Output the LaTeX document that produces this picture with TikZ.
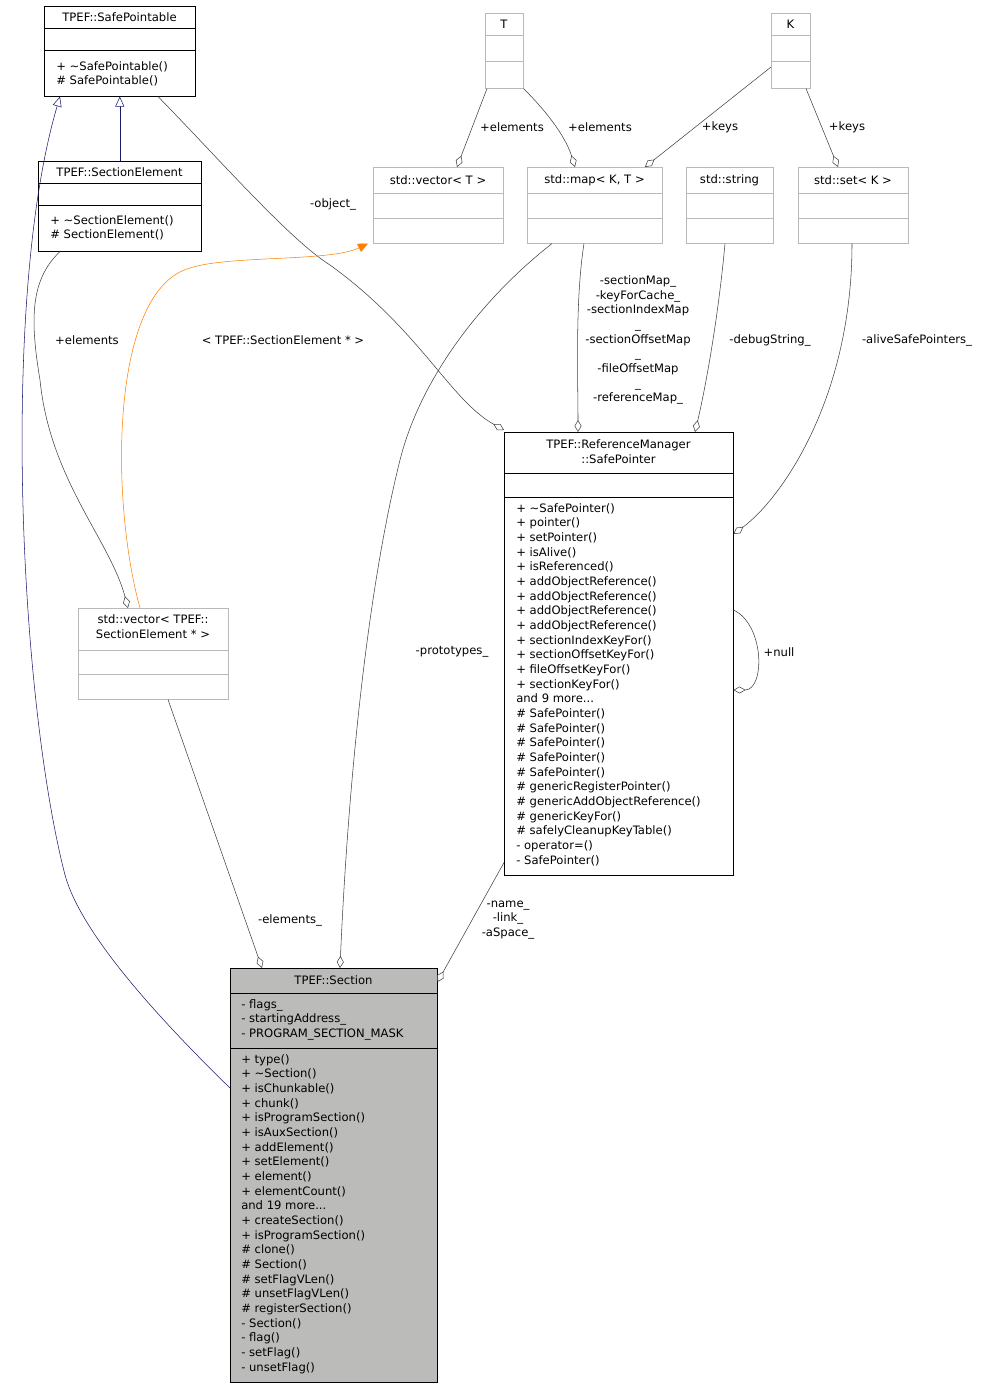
\documentclass[tikz,border=0pt]{standalone}
\usepackage{fontspec}
\setmainfont{DejaVu Sans}
\usetikzlibrary{arrows.meta,calc}
\newcommand\ubox[6]{%
\pgfmathsetmacro\uw{(#4-#2)*0.75}\pgfmathsetmacro\uh{(#5-#3)*0.75}%
\node[#6, minimum width=\uw pt, minimum height=\uh pt, anchor=north west, inner sep=0pt] (#1) at (#2,#3) {};}
\newcommand\hl[4][black]{\draw[#1] (#2,#4) -- (#3,#4);}
\begin{document}
\begin{tikzpicture}[x=0.75pt,y=-0.75pt,
  every node/.style={font=\fontsize{8.7}{11}\selectfont},
  bk/.style={draw=black,fill=white},
  gr/.style={draw=gray!55,fill=white},
  txt/.style={anchor=north west,align=left,inner sep=0pt},
  ttl/.style={anchor=center,align=center,inner sep=0pt},
  lbl/.style={align=center,inner sep=1pt},
  agg/.style={draw=black!75,-{Diamond[open,length=12pt*0.75,width=7pt*0.75,fill=white]}},
  inh/.style={draw={rgb,255:red,25;green,25;blue,112},-{Triangle[open,length=10pt*0.75,width=9pt*0.75,fill=white]}},
  tpl/.style={draw=orange,-{Triangle[length=10pt*0.75,width=9pt*0.75]}}]
\useasboundingbox[fill=white] (0,0) rectangle (987,1388);
% boxes
\ubox{sp}{44}{6}{195}{96}{bk}
\hl{44}{195}{28}\hl{44}{195}{50}
\node[ttl] at (119.5,17) {TPEF::SafePointable};
\node[txt] at (56,61) {+ \textasciitilde SafePointable()\\\# SafePointable()};
\ubox{se}{38}{161}{201}{251}{bk}
\hl{38}{201}{183}\hl{38}{201}{205}
\node[ttl] at (119.5,172) {TPEF::SectionElement};
\node[txt] at (50,215) {+ \textasciitilde SectionElement()\\\# SectionElement()};
\ubox{T}{485}{13}{523}{88}{gr}
\hl[gray!55]{485}{523}{35}\hl[gray!55]{485}{523}{61}
\node[ttl] at (504,24) {T};
\ubox{K}{771}{13}{810}{88}{gr}
\hl[gray!55]{771}{810}{35}\hl[gray!55]{771}{810}{61}
\node[ttl] at (790.5,24) {K};
\ubox{vt}{373}{167}{503}{243}{gr}
\hl[gray!55]{373}{503}{193}\hl[gray!55]{373}{503}{218}
\node[ttl] at (438,180) {std::vector< T >};
\ubox{mp}{527}{167}{662}{243}{gr}
\hl[gray!55]{527}{662}{193}\hl[gray!55]{527}{662}{218}
\node[ttl] at (594.5,180) {std::map< K, T >};
\ubox{st}{686}{167}{773}{243}{gr}
\hl[gray!55]{686}{773}{193}\hl[gray!55]{686}{773}{218}
\node[ttl] at (729.5,180) {std::string};
\ubox{set}{798}{167}{908}{243}{gr}
\hl[gray!55]{798}{908}{193}\hl[gray!55]{798}{908}{218}
\node[ttl] at (853,180) {std::set< K >};
\ubox{spt}{504}{432}{733}{875}{bk}
\hl{504}{733}{473}\hl{504}{733}{497}
\node[ttl] at (618.5,452) {TPEF::ReferenceManager\\::SafePointer};
\node[txt] at (516,503) {+ \textasciitilde SafePointer()\\+ pointer()\\+ setPointer()\\+ isAlive()\\+ isReferenced()\\+ addObjectReference()\\+ addObjectReference()\\+ addObjectReference()\\+ addObjectReference()\\+ sectionIndexKeyFor()\\+ sectionOffsetKeyFor()\\+ fileOffsetKeyFor()\\+ sectionKeyFor()\\and 9 more...\\\# SafePointer()\\\# SafePointer()\\\# SafePointer()\\\# SafePointer()\\\# SafePointer()\\\# genericRegisterPointer()\\\# genericAddObjectReference()\\\# genericKeyFor()\\\# safelyCleanupKeyTable()\\- operator=()\\- SafePointer()};
\ubox{vse}{78}{608}{228}{699}{gr}
\hl[gray!55]{78}{228}{650}\hl[gray!55]{78}{228}{674}
\node[ttl] at (153,627) {std::vector< TPEF::\\SectionElement * >};
\ubox{sec}{230}{968}{437}{1382}{draw=black,fill={rgb,255:red,187;green,188;blue,185}}
\hl{230}{437}{993}\hl{230}{437}{1048}
\node[ttl] at (333.5,980) {TPEF::Section};
\node[txt] at (241,999) {- flags\_\\- startingAddress\_\\- PROGRAM\_SECTION\_MASK};
\node[txt] at (241,1054) {+ type()\\+ \textasciitilde Section()\\+ isChunkable()\\+ chunk()\\+ isProgramSection()\\+ isAuxSection()\\+ addElement()\\+ setElement()\\+ element()\\+ elementCount()\\and 19 more...\\+ createSection()\\+ isProgramSection()\\\# clone()\\\# Section()\\\# setFlagVLen()\\\# unsetFlagVLen()\\\# registerSection()\\- Section()\\- flag()\\- setFlag()\\- unsetFlag()};
% edges
\draw[inh] (se.north) -- (sp.south);
\draw[inh] ($(sec.north west)+(0,120)$) .. controls (150,1010) and (80,930) .. (65,875) .. controls (20,700) and (0,300) .. ($(sp.south west)+(16,0)$);
\draw[agg] ($(sp.south west)+(114,0)$) .. controls (220,160) and (290,240) .. (330,265) .. controls (420,330) and (450,400) .. ($(spt.north west)+(0,-2)$);
\node[lbl] at (333,204) {-object\_};
\draw[agg] ($(T.south west)+(2,0)$) -- ($(vt.north west)+(84,0)$);
\node[lbl] at (512,127) {+elements};
\draw[agg] ($(T.south east)+(0,0)$) .. controls (545,110) and (565,135) .. ($(mp.north west)+(48,0)$);
\node[lbl] at (600,127) {+elements};
\draw[agg] ($(K.north west)+(0,54)$) -- ($(mp.north west)+(118,0)$);
\node[lbl] at (720,127) {+keys};
\draw[agg] ($(K.south west)+(35,0)$) -- ($(set.north west)+(40,0)$);
\node[lbl] at (847,127) {+keys};
\draw[agg] ($(mp.south west)+(57,0)$) .. controls (575,300) and (578,380) .. ($(spt.north west)+(74,0)$);
\node[lbl,inner sep=0pt] at (638,340) {-sectionMap\_\\-keyForCache\_\\-sectionIndexMap\\\_\\-sectionOffsetMap\\\_\\-fileOffsetMap\\\_\\-referenceMap\_};
\draw[agg] ($(st.south west)+(39,0)$) .. controls (718,320) and (705,390) .. ($(spt.north west)+(191,0)$);
\node[lbl] at (770,340) {-debugString\_};
\draw[agg] ($(set.south west)+(54,0)$) .. controls (852,400) and (780,500) .. ($(spt.north east)+(0,102)$);
\node[lbl] at (917,340) {-aliveSafePointers\_};
\draw[agg] ($(spt.north east)+(0,178)$) .. controls (765,625) and (765,690) .. ($(spt.north east)+(0,258)$);
\node[lbl] at (779,652) {+null};
\draw[agg] ($(se.south west)+(22,0)$) .. controls (30,280) and (30,320) .. (40,380) .. controls (50,480) and (110,540) .. ($(vse.north west)+(50,0)$);
\node[lbl] at (87,340) {+elements};
\draw[tpl] ($(vse.north west)+(62,0)$) .. controls (110,500) and (110,290) .. (190,268) .. controls (230,255) and (330,262) .. ($(vt.south west)+(-5,0)$);
\node[lbl] at (283,340) {< TPEF::SectionElement * >};
\draw[agg] ($(vse.south west)+(90,0)$) -- ($(sec.north west)+(32,0)$);
\node[lbl] at (290,920) {-elements\_};
\draw[agg] ($(mp.south west)+(25,0)$) .. controls (480,300) and (420,380) .. (400,460) .. controls (360,620) and (345,850) .. ($(sec.north west)+(110,0)$);
\node[lbl] at (452,652) {-prototypes\_};
\draw[agg] ($(spt.south west)+(0,-13)$) -- ($(sec.north east)+(0,14)$);
\node[lbl,inner sep=0pt] at (508,920) {-name\_\\-link\_\\-aSpace\_};
\end{tikzpicture}
\end{document}
